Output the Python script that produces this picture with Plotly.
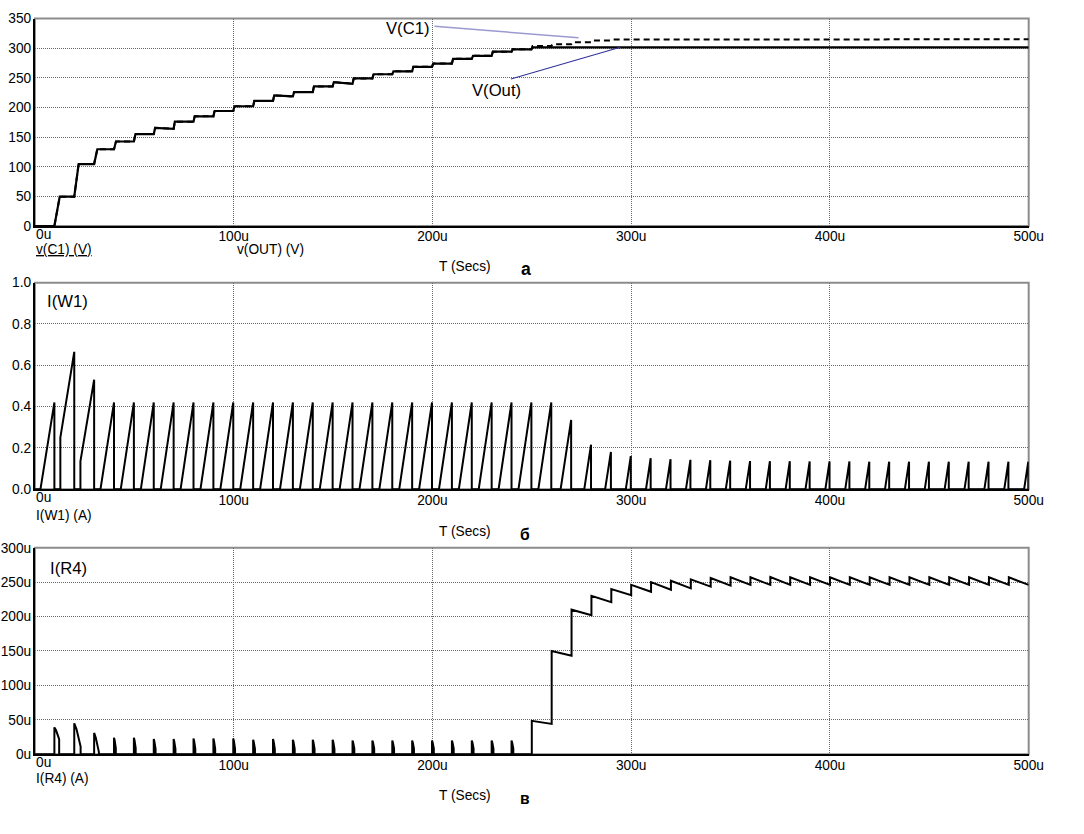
import plotly.graph_objects as go

# The figure element must fit inside the window with the page's body margin,
# so it is drawn slightly smaller; every position is a fraction of the
# 1084x834 reference frame.
REF_W, REF_H = 1084, 834
W, H = 1066, 816
FS = 0.98  # font scale

# ---------------- data ----------------
t_cycle = [10, 20, 30, 40, 50, 60, 70, 80, 90, 100,
           110, 120, 130, 140, 150, 160, 170, 180, 190, 200,
           210, 220, 230, 240, 250, 260, 270, 280, 290, 300,
           310, 320, 330, 340, 350, 360, 370, 380, 390, 400,
           410, 420, 430, 440, 450, 460, 470, 480, 490, 500]
x_ticks = [0, 100, 200, 300, 400, 500]
x_ticktext = ["0u", "100u", "200u", "300u", "400u", "500u"]

# panel a : capacitor / output voltage staircase (level after each step)
vout_level = [49.5, 104.5, 129.5, 142.5, 155, 165.5, 176, 185, 194, 202,
              211, 220.5, 226, 235.5, 242.5, 249, 256, 261, 268.5, 274,
              282, 287, 294, 298, 301.5]
vout_sag = [0, 0, 0, 0, 0, 1.5, 0, 0, 0, 0,
            0, 2, 0, 0, 2.5, 0, 0, 0, 0, 0,
            0, 0, 0, 0, 0]
vc1_level = [49.5, 104.5, 129.5, 142.5, 155, 165.5, 176, 185, 194, 202,
             211, 220.5, 226, 235.5, 242.5, 249, 256, 261, 268.5, 274,
             282, 287, 294, 298, 303.5, 306.5, 310, 313, 314.5, 315]
vc1_sag = [0, 0, 0, 0, 0, 1.5, 0, 0, 0, 0,
           0, 2, 0, 0, 2.5, 0, 0, 0, 0, 0,
           0, 0, 0, 0, 0, 0, 0, 0, 0, 0]
v_rise = [2.7, 2.2, 1.6, 1.0, 0.8, 0.7, 0.6, 0.6, 0.6, 0.6,
          0.6, 0.6, 0.6, 0.6, 0.6, 0.6, 0.6, 0.6, 0.6, 0.6,
          0.6, 0.6, 0.6, 0.6, 0.6, 0.6, 0.6, 0.6, 0.6, 0.6]
va_ticks = [0, 50, 100, 150, 200, 250, 300, 350]

# panel b : I(W1) sawtooth (peak, value at ramp start, ramp duration)
iw1_peak = [0.42, 0.665, 0.53, 0.42, 0.42, 0.42, 0.42, 0.42, 0.42, 0.42,
            0.42, 0.42, 0.42, 0.42, 0.42, 0.42, 0.42, 0.42, 0.42, 0.42,
            0.42, 0.42, 0.42, 0.42, 0.42, 0.42, 0.335, 0.215, 0.18, 0.16,
            0.15, 0.145, 0.142, 0.14, 0.138, 0.136, 0.135, 0.135, 0.134, 0.134,
            0.134, 0.133, 0.133, 0.133, 0.133, 0.133, 0.133, 0.133, 0.133, 0.133]
iw1_base = [0, 0.25, 0.135, 0, 0, 0, 0, 0, 0, 0,
            0, 0, 0, 0, 0, 0, 0, 0, 0, 0,
            0, 0, 0, 0, 0, 0, 0, 0, 0, 0,
            0, 0, 0, 0, 0, 0, 0, 0, 0, 0,
            0, 0, 0, 0, 0, 0, 0, 0, 0, 0]
iw1_ramp = [7.0, 7.0, 6.9, 6.8, 6.6, 6.5, 6.5, 6.5, 6.5, 6.5,
            6.5, 6.5, 6.5, 6.5, 6.5, 6.5, 6.5, 6.5, 6.5, 6.5,
            6.5, 6.5, 6.5, 6.5, 6.5, 6.5, 5.3, 3.4, 2.9, 2.5,
            2.35, 2.3, 2.25, 2.2, 2.2, 2.15, 2.1, 2.1, 2.1, 2.1,
            2.1, 2.1, 2.1, 2.1, 2.1, 2.1, 2.1, 2.1, 2.1, 2.1]
ib_ticks = [0, 0.2, 0.4, 0.6, 0.8, 1.0]
ib_ticktext = ["0.0", "0.2", "0.4", "0.6", "0.8", "1.0"]

# panel c : I(R4) (in uA) – spikes 10u..240u, then sawtooth from 250u
ir4_spike_peak = [39, 45, 31, 24, 24, 22, 22, 23, 23, 23,
                  21, 22, 21, 21, 21, 20, 20, 20, 20, 20,
                  20, 20, 20, 20]
ir4_spike_tail = [22, 11, 3, 9, 9, 8, 8, 8, 8, 8,
                  8, 8, 8, 8, 8, 8, 8, 8, 8, 8,
                  8, 8, 8, 8]
ir4_spike_len = [2.4, 3.2, 2.4, 0.9, 0.9, 0.9, 0.9, 0.9, 0.9, 0.9,
                 0.9, 0.9, 0.9, 0.9, 0.9, 0.9, 0.9, 0.9, 0.9, 0.9,
                 0.9, 0.9, 0.9, 0.9]
ir4_hi = [48.5, 150, 210, 230, 240, 246, 250, 252, 254, 256,
          257, 257, 257.5, 257, 257, 257, 257, 257, 257, 257,
          257, 257, 257, 257, 257]
ir4_lo = [44, 143, 202, 221, 231, 236, 239, 241, 243.5, 245,
          246, 246, 246, 246, 246, 246, 246, 246, 246, 246,
          246, 246, 246, 246, 246]
ic_ticks = [0, 50, 100, 150, 200, 250, 300]
ic_ticktext = ["0u", "50u", "100u", "150u", "200u", "250u", "300u"]

T_END = 500

# ---------------- waveform construction ----------------
def staircase(levels, sags, rises):
    xs, ys = [0], [0]
    prev = 0
    for i, lvl in enumerate(levels):
        t = t_cycle[i] - 0.2
        xs += [t, t + rises[i]]
        ys += [prev, lvl]
        prev = lvl - sags[i]
    xs.append(T_END)
    ys.append(prev)
    return xs, ys


vo_x, vo_y = staircase(vout_level, vout_sag, v_rise)
vc_x, vc_y = staircase(vc1_level, vc1_sag, v_rise)

iw_x, iw_y = [0], [0]
for t, pk, base, rp in zip(t_cycle, iw1_peak, iw1_base, iw1_ramp):
    t0 = t - 0.2
    iw_x += [t0 - rp, t0 - rp, t0, t0]
    iw_y += [0, base, pk, 0]

ir_x, ir_y = [0], [0]
for i, pk in enumerate(ir4_spike_peak):
    t = t_cycle[i] - 0.2
    ln = ir4_spike_len[i]
    ir_x += [t, t, t + 0.35 * ln, t + ln, t + ln]
    ir_y += [0, pk, pk - 0.25 * (pk - ir4_spike_tail[i]), ir4_spike_tail[i], 0]
prev = 0
start = len(ir4_spike_peak)
for j, (hi, lo) in enumerate(zip(ir4_hi, ir4_lo)):
    t = t_cycle[start + j]
    ir_x += [t, t]
    ir_y += [prev, hi]
    prev = lo
ir_x.append(T_END)
ir_y.append(prev)

# ---------------- figure ----------------
FONT = "Arial, 'Liberation Sans', sans-serif"
fig = go.Figure()

fig.add_trace(go.Scatter(x=vc_x, y=vc_y, mode="lines", name="V(C1)",
                         line=dict(color="black", width=2, dash="6px,4px"),
                         xaxis="x", yaxis="y"))
fig.add_trace(go.Scatter(x=vo_x, y=vo_y, mode="lines", name="V(OUT)",
                         line=dict(color="black", width=2.2),
                         xaxis="x", yaxis="y"))
fig.add_trace(go.Scatter(x=iw_x, y=iw_y, mode="lines", name="I(W1)",
                         line=dict(color="black", width=2),
                         xaxis="x2", yaxis="y2"))
fig.add_trace(go.Scatter(x=ir_x, y=ir_y, mode="lines", name="I(R4)",
                         line=dict(color="black", width=2),
                         xaxis="x3", yaxis="y3"))

def px(x):
    return x / REF_W

def py(y):
    return 1 - y / REF_H

X0, X1 = px(36), px(1061)
panels = [(12, 228), (287, 502), (563, 778)]

# the first x label ("0u") is drawn left-aligned at the axis origin, as in the reference
axis_ticktext = [""] + x_ticktext[1:]

tickfont = dict(family=FONT, size=14 * FS, color="black")
grid = dict(showgrid=True, gridcolor="#6a6a6a", griddash="1px,1px", gridwidth=1)
common_x = dict(range=[0, 500], tickvals=x_ticks, ticktext=axis_ticktext,
                showline=True, linecolor="black", linewidth=2, ticks="",
                ticklabelstandoff=-3, ticklabeloverflow="allow",
                zeroline=False, tickfont=tickfont,
                domain=[X0, X1], fixedrange=True, **grid)
common_y = dict(showline=True, linecolor="black", linewidth=2, ticks="",
                ticklabelstandoff=-1, ticklabeloverflow="allow",
                zeroline=False, tickfont=tickfont,
                fixedrange=True, **grid)

fig.update_layout(
    width=W, height=H, autosize=False,
    margin=dict(l=0, r=0, t=0, b=0),
    paper_bgcolor="white", plot_bgcolor="white",
    showlegend=False,
    font=dict(family=FONT, color="black"),
    xaxis=dict(anchor="y", **common_x),
    yaxis=dict(anchor="x", range=[0, 350], tickvals=va_ticks,
               domain=[py(panels[0][1]), py(panels[0][0])], **common_y),
    xaxis2=dict(anchor="y2", **common_x),
    yaxis2=dict(anchor="x2", range=[0, 1.0], tickvals=ib_ticks, ticktext=ib_ticktext,
                domain=[py(panels[1][1]), py(panels[1][0])], **common_y),
    xaxis3=dict(anchor="y3", **common_x),
    yaxis3=dict(anchor="x3", range=[0, 300], tickvals=ic_ticks, ticktext=ic_ticktext,
                domain=[py(panels[2][1]), py(panels[2][0])], **common_y),
)

# gray frame (top / right edges)
for xr, yr in [("x domain", "y domain"), ("x2 domain", "y2 domain"), ("x3 domain", "y3 domain")]:
    fig.add_shape(type="rect", xref=xr, yref=yr, x0=0, x1=1, y0=0, y1=1,
                  line=dict(color="#8c8c8c", width=2), layer="below")

# leader lines of panel a labels
fig.add_shape(type="line", xref="x", yref="y", x0=201, y0=337, x1=273.5, y1=317.5,
              line=dict(color="#9a9ad0", width=1.5))
fig.add_shape(type="line", xref="x", yref="y", x0=239.5, y0=248, x1=294.5, y1=301.5,
              line=dict(color="#33339a", width=1.2))

def label(text, x, y, size=14, anchor="left", bold=False):
    if bold:
        text = "<b>" + text + "</b>"
    fig.add_annotation(text=text, xref="paper", yref="paper", x=px(x), y=py(y),
                       xanchor=anchor, yanchor="middle", showarrow=False,
                       font=dict(family=FONT, size=size * FS, color="black"))

for _, bottom in panels:
    label(x_ticktext[0], 35, bottom + 9)

label("<u>v(C1) (V)</u>", 35, 252)
label("v(OUT) (V)", 242, 252)
label("T (Secs)", 480, 270, anchor="center")
label("а", 542, 273, size=18, anchor="center", bold=True)
label("V(C1)", 396, 22, size=17)
label("V(Out)", 485, 87, size=17)

label("I(W1)", 46, 307, size=17)
label("I(W1) (A)", 35, 529)
label("T (Secs)", 480, 546, anchor="center")
label("б", 541, 549, size=16, anchor="center", bold=True)

label("I(R4)", 49, 585, size=17)
label("I(R4) (A)", 35, 803)
label("T (Secs)", 480, 821, anchor="center")
label("в", 541, 824, size=16, anchor="center", bold=True)

fig.write_html("out.html")
